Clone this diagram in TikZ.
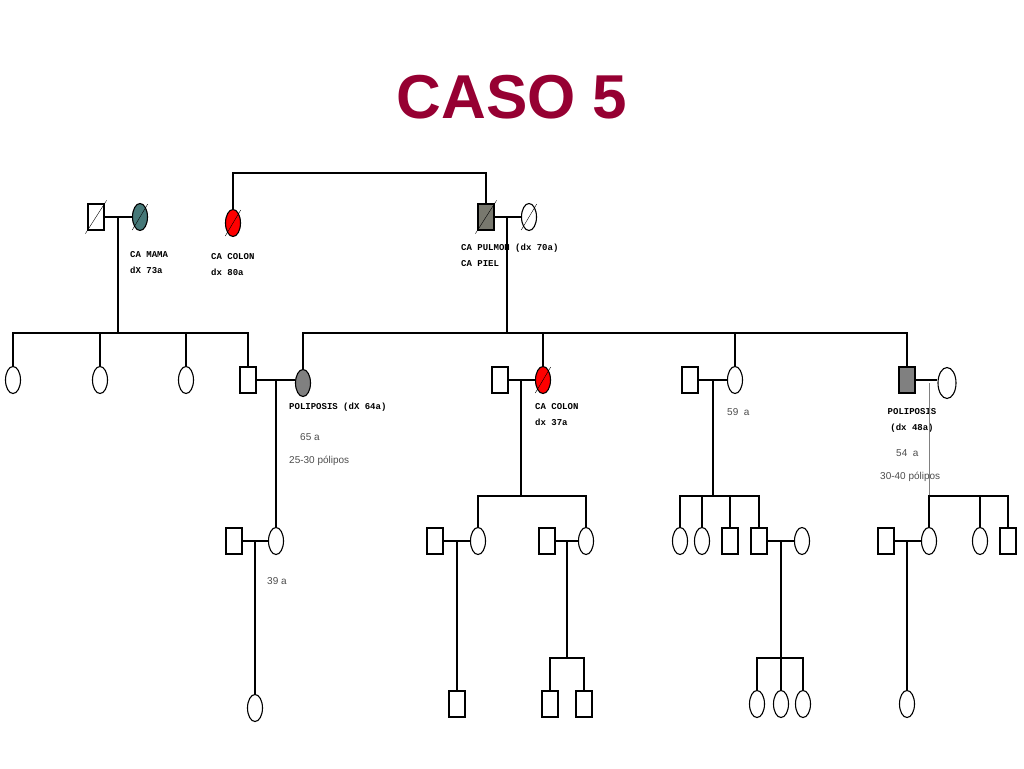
\documentclass[tikz,border=0pt]{standalone}
\usepackage{fontspec}
\setmainfont{Liberation Sans}
\newfontfamily\monofont{Liberation Mono}
\usetikzlibrary{shapes.geometric,calc,positioning}
\definecolor{titlered}{RGB}{150,0,50}
\definecolor{tealf}{RGB}{70,120,120}
\definecolor{grayf}{RGB}{120,120,110}
\tikzset{
  sq/.style={draw,line width=1.2pt,minimum width=16,minimum height=26,inner sep=0},
  fe/.style={draw,line width=1.1pt,ellipse,minimum width=15,minimum height=27,inner sep=0},
  lab/.style={font=\monofont\fontsize{9}{16}\selectfont\bfseries,anchor=north west,inner sep=0,align=left},
  note/.style={font=\fontsize{10}{12}\selectfont,text=black!70,anchor=west,inner sep=0},
  ln/.style={line width=1.5pt}
}
\newcommand{\dead}[1]{\draw ($(#1.south west)+(-2,3)$) -- ($(#1.north east)+(2,-3)$);}
\begin{document}
\begin{tikzpicture}[x=1pt,y=-1pt]
  \useasboundingbox (0,0) rectangle (1024,768);
  \node[font=\fontsize{62}{66}\selectfont\bfseries,text=titlered] (title) at (512,97) {CASO 5};

  % generation I
  \node[sq] (gf) at (96,217) {}; \dead{gf}
  \node[fe,fill=tealf] (gm) at (140,217) {}; \dead{gm}
  \node[fe,fill=red] (ga) at (233,223) {}; \dead{ga}
  \node[sq,fill=grayf] (pf) at (486,217) {}; \dead{pf}
  \node[fe] (pm) at (529,217) {}; \dead{pm}
  \coordinate (s1) at (233,173);
  \coordinate (s2) at (486,173);
  \draw[ln] (ga.north) -- (s1) -- (s2) -- (pf.north);
  \draw[ln] (gf.east) -- (gm.west);
  \draw[ln] (pf.east) -- (pm.west);
  \node[lab] (lgm) at (130,251) {CA MAMA\\dX 73a};
  \node[lab] (lga) at (211,253) {CA COLON\\dx 80a};
  \node[lab] (lpf) at (461,244) {CA PULMON (dx 70a)\\CA PIEL};

  % generation II
  \coordinate (d1) at (118,217); \coordinate (d1b) at (118,333);
  \coordinate (d2) at (507,217); \coordinate (d2b) at (507,333);
  \draw[ln] (d1) -- (d1b); \draw[ln] (d2) -- (d2b);
  \foreach \n/\x in {a/13,b/100,c/186} {
    \node[fe] (c\n) at (\x,380) {};
    \draw[ln] (c\n.north) |- (d1b);
  }
  \node[sq] (m1) at (248,380) {};
  \draw[ln] (m1.north) |- (d1b);
  \node[fe,fill=gray] (w1) at (303,383) {};
  \node[sq] (m2) at (500,380) {};
  \node[fe,fill=red] (w2) at (543,380) {}; \dead{w2}
  \node[sq] (m3) at (690,380) {};
  \node[fe] (w3) at (735,380) {};
  \node[sq,fill=gray] (m4) at (907,380) {};
  \node[fe,minimum width=18,minimum height=31] (w4) at (947,383) {};
  \coordinate (r1) at (303,333); \coordinate (r2) at (907,333);
  \draw[ln] (w1.north) -- (r1) -- (r2) -- (m4.north);
  \draw[ln] (w2.north) -- (543,333);
  \draw[ln] (w3.north) -- (735,333);
  \foreach \a/\b in {m1/w1,m2/w2,m3/w3,m4/w4} \draw[ln] (\a.east) -- (\a.east -| \b.west);
  \node[lab] (lw1) at (289,403) {POLIPOSIS (dX 64a)};
  \node[note] (nw1) at (300,437) {65 a};
  \node[note] (pw1) at (289,461) {25-30 pólipos};
  \node[lab] (lw2) at (535,403) {CA COLON\\dx 37a};
  \node[note] (nw3) at (727,412) {59\ \ a};
  \node[lab,align=center,anchor=north] (lm4) at (912,408) {POLIPOSIS\\(dx 48a)};
  \node[note] (nm4) at (896,453) {54\ \ a};
  \node[note] (pm4) at (880,477) {30-40 pólipos};

  % generation III
  \node[sq] (g1) at (234,541) {};
  \node[fe] (h1) at (276,541) {};
  \draw[ln] (g1.east) -- (h1.west);
  \draw[ln] (276,380) -- (h1.north);
  \node[note] (nh1) at (267,581) {39 a};
  \node[fe] (k1) at (255,708) {};
  \draw[ln] (255,541) -- (k1.north);

  \node[sq] (g2) at (435,541) {}; \node[fe] (h2) at (478,541) {};
  \node[sq] (g3) at (547,541) {}; \node[fe] (h3) at (586,541) {};
  \draw[ln] (521,380) -- (521,496);
  \draw[ln] (h2.north) |- (521,496) -| (h3.north);
  \draw[ln] (g2.east) -- (h2.west); \draw[ln] (g3.east) -- (h3.west);
  \node[sq] (k2) at (457,704) {};
  \draw[ln] (457,541) -- (k2.north);
  \node[sq] (k3) at (550,704) {}; \node[sq] (k4) at (584,704) {};
  \draw[ln] (567,541) -- (567,658);
  \draw[ln] (k3.north) |- (567,658) -| (k4.north);

  \foreach \n/\x in {a/680,b/702} \node[fe] (f\n) at (\x,541) {};
  \node[sq] (fc) at (730,541) {}; \node[sq] (fd) at (759,541) {};
  \node[fe] (fe) at (802,541) {};
  \draw[ln] (713,380) -- (713,496);
  \draw[ln] (fa.north) |- (fd.north |- 0,496) -- (fd.north);
  \draw[ln] (fb.north) -- (702,496); \draw[ln] (fc.north) -- (730,496);
  \draw[ln] (fd.east) -- (fe.west);
  \foreach \n/\x in {a/757,b/781,c/803} \node[fe] (k5\n) at (\x,704) {};
  \draw[ln] (781,541) -- (k5b.north);
  \draw[ln] (k5a.north) |- (781,658) -| (k5c.north);

  \node[sq] (g6) at (886,541) {}; \node[fe] (h6) at (929,541) {};
  \node[fe] (h7) at (980,541) {}; \node[sq] (h8) at (1008,541) {};
  \draw[black!50] (929,383) -- (929,496);
  \draw[ln] (h6.north) |- (h8.north |- 0,496) -- (h8.north);
  \draw[ln] (h7.north) -- (980,496);
  \draw[ln] (g6.east) -- (h6.west);
  \node[fe] (k6) at (907,704) {};
  \draw[ln] (907,541) -- (k6.north);
\end{tikzpicture}
\end{document}
